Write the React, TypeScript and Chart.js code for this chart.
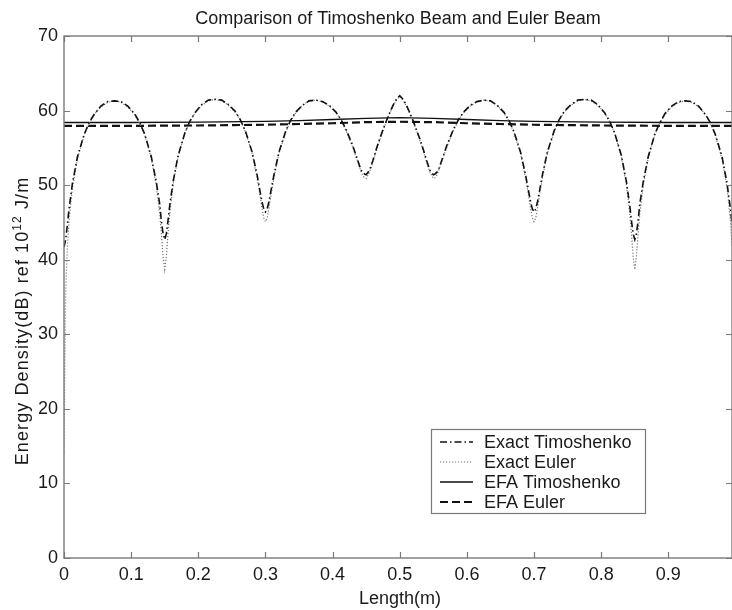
import React, { useEffect, useRef } from "react";
import { Chart, registerables } from "chart.js";

Chart.register(...registerables);

const TITLE = "Comparison of Timoshenko Beam and Euler Beam";
const X_TITLE = "Length(m)";
const Y_TITLE_MAIN = "Energy Density(dB) ref 10";
const Y_TITLE_SUP = "12";
const Y_TITLE_END = " J/m";
const SERIES_NAMES = ["Exact Timoshenko", "Exact Euler", "EFA Timoshenko", "EFA Euler"];

const X_EXACT = [
  0, 0.0025, 0.005, 0.0075, 0.0125, 0.02, 0.03, 0.0375, 0.045, 0.055, 0.065, 0.075, 0.085, 0.095, 0.105, 0.1125, 0.12, 0.13, 0.1375, 0.1425, 0.145, 0.1475,
  0.15, 0.1525, 0.155, 0.1575, 0.1625, 0.17, 0.18, 0.1875, 0.195, 0.205, 0.215, 0.225, 0.235, 0.245, 0.255, 0.2625, 0.27, 0.28, 0.2875, 0.2925, 0.295, 0.2975,
  0.3, 0.3025, 0.305, 0.3075, 0.3125, 0.32, 0.33, 0.3375, 0.345, 0.355, 0.365, 0.375, 0.385, 0.395, 0.405, 0.4125, 0.42, 0.43, 0.4375, 0.4425, 0.445, 0.4475,
  0.45, 0.455, 0.46, 0.465, 0.47, 0.475, 0.48, 0.485, 0.49, 0.495,
  0.5,
  0.505, 0.51, 0.515, 0.52, 0.525, 0.53, 0.535, 0.54, 0.545,
  0.55, 0.5525, 0.555, 0.5575, 0.5625, 0.57, 0.58, 0.5875, 0.595, 0.605, 0.615, 0.625, 0.635, 0.645, 0.655, 0.6625, 0.67, 0.68, 0.6875, 0.6925, 0.695, 0.6975,
  0.7, 0.7025, 0.705, 0.7075, 0.7125, 0.72, 0.73, 0.7375, 0.745, 0.755, 0.765, 0.775, 0.785, 0.795, 0.805, 0.8125, 0.82, 0.83, 0.8375, 0.8425, 0.845, 0.8475,
  0.85, 0.8525, 0.855, 0.8575, 0.8625, 0.87, 0.88, 0.8875, 0.895, 0.905, 0.915, 0.925, 0.935, 0.945, 0.955, 0.9625, 0.97, 0.98, 0.9875, 0.9925, 0.995, 0.9975, 1.0,
];

const EXACT_TIMOSHENKO = [
  41.7, 42.7, 44.7, 46.8, 50.2, 53.8, 56.8, 58.4, 59.5, 60.6, 61.2, 61.3, 61.2, 60.6, 59.6, 58.4, 56.9, 53.8, 50.4, 47.5, 45.2, 43.5,
  42.7, 43.5, 45.3, 47.3, 50.5, 54.0, 57.0, 58.6, 59.7, 60.8, 61.4, 61.5, 61.4, 60.8, 59.9, 58.8, 57.3, 54.5, 51.4, 48.9, 47.7, 46.8,
  46.4, 46.8, 47.7, 48.9, 51.3, 54.4, 57.2, 58.7, 59.8, 60.7, 61.3, 61.4, 61.2, 60.7, 59.8, 58.8, 57.5, 55.3, 53.3, 52.0, 51.7, 51.5,
  51.4, 52.0, 53.3, 54.8, 56.2, 57.4, 58.6, 59.7, 60.7, 61.5,
  62.0,
  61.5, 60.7, 59.7, 58.6, 57.4, 56.2, 54.8, 53.3, 52.0,
  51.4, 51.5, 51.7, 52.0, 53.3, 55.3, 57.5, 58.8, 59.8, 60.7, 61.2, 61.4, 61.3, 60.7, 59.8, 58.7, 57.2, 54.4, 51.3, 48.9, 47.7, 46.8,
  46.4, 46.8, 47.7, 48.9, 51.4, 54.5, 57.3, 58.8, 59.9, 60.8, 61.4, 61.5, 61.4, 60.8, 59.7, 58.6, 57.0, 54.0, 50.5, 47.3, 45.3, 43.5,
  42.7, 43.5, 45.2, 47.5, 50.4, 53.8, 56.9, 58.4, 59.6, 60.6, 61.2, 61.3, 61.2, 60.6, 59.5, 58.4, 56.8, 53.8, 50.2, 46.8, 44.7, 42.7, 41.7,
];

const EXACT_EULER = [
  14.0, 35.7, 41.7, 45.2, 49.6, 53.5, 56.7, 58.3, 59.5, 60.5, 61.1, 61.3, 61.1, 60.5, 59.5, 58.3, 56.8, 53.6, 49.9, 46.1, 43.5, 40.5,
  38.7, 40.5, 43.6, 46.2, 50.1, 53.8, 57.0, 58.5, 59.7, 60.7, 61.3, 61.5, 61.3, 60.7, 59.8, 58.7, 57.2, 54.3, 51.0, 48.3, 46.8, 45.6,
  45.1, 45.6, 46.8, 48.2, 50.9, 54.2, 57.1, 58.6, 59.7, 60.7, 61.3, 61.4, 61.2, 60.6, 59.7, 58.7, 57.3, 55.1, 53.1, 51.8, 51.3, 51.0,
  50.9, 51.7, 53.1, 54.6, 56.0, 57.3, 58.5, 59.6, 60.6, 61.4,
  61.9,
  61.4, 60.6, 59.6, 58.5, 57.3, 56.0, 54.6, 53.1, 51.7,
  50.9, 51.0, 51.3, 51.8, 53.1, 55.1, 57.3, 58.7, 59.7, 60.6, 61.2, 61.4, 61.3, 60.7, 59.7, 58.6, 57.1, 54.2, 50.9, 48.2, 46.8, 45.6,
  45.1, 45.6, 46.8, 48.3, 51.0, 54.3, 57.2, 58.7, 59.8, 60.7, 61.3, 61.5, 61.3, 60.7, 59.7, 58.5, 57.0, 53.8, 50.1, 46.2, 43.6, 40.5,
  38.7, 40.5, 43.5, 46.1, 49.9, 53.6, 56.8, 58.3, 59.5, 60.5, 61.1, 61.3, 61.1, 60.5, 59.5, 58.3, 56.7, 53.5, 49.6, 45.2, 41.7, 35.7, 14.0,
];

const X_EFA = [0, 0.1, 0.2, 0.3, 0.35, 0.4, 0.45, 0.5, 0.55, 0.6, 0.65, 0.7, 0.8, 0.9, 1.0];
const EFA_TIMOSHENKO = [58.4, 58.4, 58.45, 58.55, 58.65, 58.8, 58.95, 59.05, 58.95, 58.8, 58.65, 58.55, 58.45, 58.4, 58.4];
const EFA_EULER = [57.95, 57.95, 58.0, 58.1, 58.2, 58.3, 58.45, 58.5, 58.45, 58.3, 58.2, 58.1, 58.0, 57.95, 57.95];

const X_MIN = 0;
const X_MAX = 0.9948;
const X_STEP = 0.1;
const Y_MIN = 0;
const Y_MAX = 70;
const Y_STEP = 10;

const FONT = "'Liberation Sans', Arial, Helvetica, sans-serif";
const FS = 18;
const TEXT_COLOR = "#1a1a1a";
const AXIS_COLOR = "#7a7a7a";

const STYLES = [
  { color: "#111", width: 1.6, dash: [7, 3, 1.5, 3] },
  { color: "#777", width: 1.2, dash: [1.2, 1.8] },
  { color: "#111", width: 1.3, dash: [] as number[] },
  { color: "#111", width: 2.2, dash: [8, 4] },
];

const toPts = (xs: number[], ys: number[]) => xs.map((x, i) => ({ x, y: ys[i] }));

const decorPlugin = {
  id: "decor",
  afterDraw(chart: any) {
    const ctx = chart.ctx as CanvasRenderingContext2D;
    const a = chart.chartArea;
    const xs = chart.scales.x;
    const ys = chart.scales.y;
    ctx.save();
    ctx.strokeStyle = AXIS_COLOR;
    ctx.lineWidth = 1.4;
    ctx.setLineDash([]);
    ctx.strokeRect(a.left, a.top, a.right - a.left, a.bottom - a.top);
    const TL = 6;
    ctx.lineWidth = 1.2;
    ctx.beginPath();
    xs.ticks.forEach((t: any) => {
      const px = Math.round(xs.getPixelForValue(t.value)) + 0.5;
      ctx.moveTo(px, a.bottom);
      ctx.lineTo(px, a.bottom - TL);
      ctx.moveTo(px, a.top);
      ctx.lineTo(px, a.top + TL);
    });
    ys.ticks.forEach((t: any) => {
      const py = Math.round(ys.getPixelForValue(t.value)) + 0.5;
      ctx.moveTo(a.left, py);
      ctx.lineTo(a.left + TL, py);
      ctx.moveTo(a.right, py);
      ctx.lineTo(a.right - TL, py);
    });
    ctx.stroke();

    ctx.fillStyle = TEXT_COLOR;
    ctx.font = `${FS}px ${FONT}`;
    ctx.textAlign = "center";
    ctx.textBaseline = "alphabetic";
    ctx.fillText(TITLE, 398, 24);
    ctx.fillText(X_TITLE, 400, 604);

    ctx.save();
    ctx.translate(28, 321);
    ctx.rotate(-Math.PI / 2);
    ctx.textAlign = "left";
    (ctx as any).letterSpacing = "1.1px";
    ctx.font = `18px ${FONT}`;
    const w1 = ctx.measureText(Y_TITLE_MAIN).width;
    const w3 = ctx.measureText(Y_TITLE_END).width;
    ctx.font = `12px ${FONT}`;
    const w2 = ctx.measureText(Y_TITLE_SUP).width;
    const total = w1 + w2 + w3;
    let cx = -total / 2;
    ctx.font = `18px ${FONT}`;
    ctx.fillText(Y_TITLE_MAIN, cx, 0);
    cx += w1;
    ctx.font = `12px ${FONT}`;
    ctx.fillText(Y_TITLE_SUP, cx, -7);
    cx += w2;
    ctx.font = `18px ${FONT}`;
    ctx.fillText(Y_TITLE_END, cx, 0);
    ctx.restore();

    const lx = 431, ly = 429, lw = 214, lh = 84;
    ctx.fillStyle = "#fff";
    ctx.fillRect(lx, ly, lw, lh);
    ctx.strokeStyle = AXIS_COLOR;
    ctx.lineWidth = 1.2;
    ctx.strokeRect(lx + 0.5, ly + 0.5, lw, lh);
    ctx.font = `${FS}px ${FONT}`;
    ctx.textAlign = "left";
    ctx.textBaseline = "middle";
    SERIES_NAMES.forEach((name, i) => {
      const y = ly + 13 + i * 20;
      const s = STYLES[i];
      ctx.strokeStyle = s.color;
      ctx.lineWidth = s.width;
      ctx.setLineDash(s.dash);
      ctx.beginPath();
      ctx.moveTo(lx + 9, y);
      ctx.lineTo(lx + 42, y);
      ctx.stroke();
      ctx.setLineDash([]);
      ctx.fillStyle = TEXT_COLOR;
      ctx.fillText(name, lx + 53, y + 1);
    });
    ctx.restore();
  },
};

export default function App() {
  const ref = useRef<HTMLCanvasElement | null>(null);
  useEffect(() => {
    if (!ref.current) return;
    const series = [
      toPts(X_EXACT, EXACT_TIMOSHENKO),
      toPts(X_EXACT, EXACT_EULER),
      toPts(X_EFA, EFA_TIMOSHENKO),
      toPts(X_EFA, EFA_EULER),
    ];
    const chart = new Chart(ref.current, {
      type: "line",
      data: {
        datasets: series.map((d, i) => ({
          label: SERIES_NAMES[i],
          data: d,
          borderColor: STYLES[i].color,
          borderWidth: STYLES[i].width,
          borderDash: STYLES[i].dash,
          pointRadius: 0,
          tension: 0,
          fill: false,
        })),
      },
      options: {
        animation: false,
        responsive: false,
        layout: { padding: { left: 0, right: 0, top: 36, bottom: 0 } },
        plugins: { legend: { display: false }, title: { display: false }, tooltip: { enabled: false } },
        scales: {
          x: {
            type: "linear",
            min: X_MIN,
            max: X_MAX,
            grid: { display: false, drawTicks: false },
            border: { display: false },
            ticks: {
              stepSize: X_STEP,
              includeBounds: false,
              autoSkip: false,
              maxRotation: 0,
              padding: 6,
              color: TEXT_COLOR,
              font: { family: FONT, size: FS },
              callback: (v: any) => String(Number(Number(v).toFixed(1))),
            },
            afterFit: (s: any) => { s.height = 52; },
          },
          y: {
            type: "linear",
            min: Y_MIN,
            max: Y_MAX,
            grid: { display: false, drawTicks: false },
            border: { display: false },
            ticks: {
              stepSize: Y_STEP,
              padding: 6,
              color: TEXT_COLOR,
              font: { family: FONT, size: FS },
            },
            afterFit: (s: any) => { s.width = 64; },
          },
        },
      },
      plugins: [decorPlugin],
    } as any);
    return () => chart.destroy();
  }, []);
  return (
    <div style={{ position: "fixed", left: 0, top: 0, width: 732, height: 610, overflow: "hidden", background: "#fff" }}>
      <canvas ref={ref} width={732} height={610} style={{ width: 732, height: 610, display: "block" }} />
    </div>
  );
}
